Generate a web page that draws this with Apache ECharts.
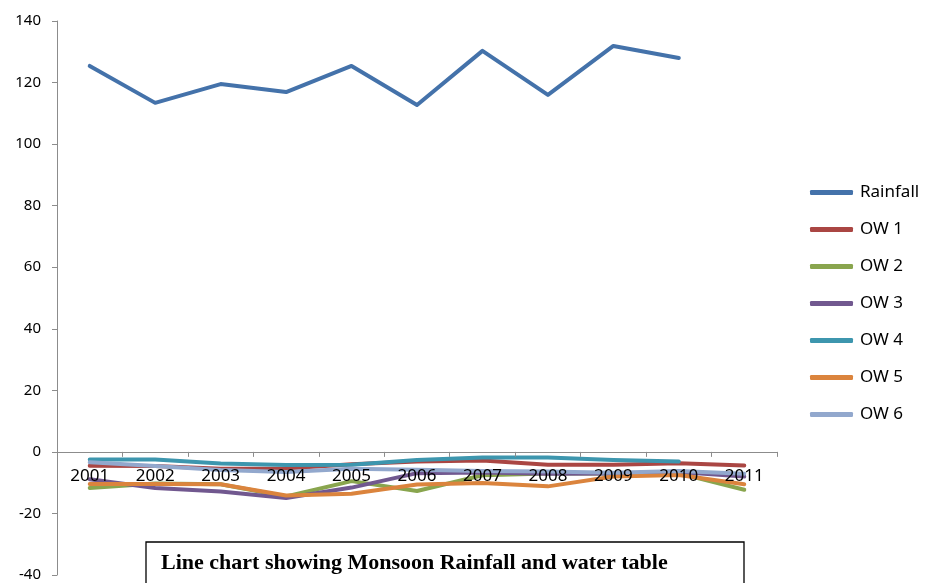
<!DOCTYPE html>
<html>
<head>
<meta charset="utf-8">
<style>
  html, body { margin: 0; padding: 0; background: #ffffff; }
  #chart { width: 935px; height: 583px; }
</style>
<script src="https://cdn.jsdelivr.net/npm/echarts@6/dist/echarts.min.js"></script>
</head>
<body>
<div id="chart"></div>
<script>
// Years of observation
const years = ['2001', '2002', '2003', '2004', '2005', '2006', '2007', '2008', '2009', '2010', '2011'];

// Monsoon rainfall and observation-well water table depths
const rainfall = [125.4, 113.4, 119.5, 116.9, 125.4, 112.7, 130.3, 116.0, 131.9, 128.0, null];
const ow1 = [-4.5, -4.6, -5.5, -5.4, -4.0, -3.1, -2.8, -4.2, -4.2, -3.7, -4.4];
const ow2 = [-11.7, -10.3, -10.5, -14.5, -9.5, -12.7, -7.6, -7.0, -7.0, -7.0, -12.3];
const ow3 = [-8.9, -11.7, -12.9, -15.0, -11.6, -6.9, -6.7, -7.1, -7.0, -6.5, -8.0];
const ow4 = [-2.5, -2.5, -3.8, -4.3, -4.2, -2.6, -1.8, -1.8, -2.6, -3.1, null];
const ow5 = [-10.4, -10.4, -10.5, -14.2, -13.6, -10.6, -10.1, -11.2, -8.0, -7.5, -10.5];
const ow6 = [-3.4, -4.6, -5.9, -6.5, -5.5, -5.8, -6.2, -6.4, -6.8, -6.2, -7.1];

const seriesNames = ['Rainfall', 'OW 1', 'OW 2', 'OW 3', 'OW 4', 'OW 5', 'OW 6'];
const seriesData = [rainfall, ow1, ow2, ow3, ow4, ow5, ow6];
const colors = ['#4472AA', '#AA4643', '#89A54E', '#71588F', '#3D96AE', '#DB843D', '#92A8CD'];

// Y axis range and step
const yMin = -40, yMax = 140, yStep = 20;

const font = '"Noto Sans", "Open Sans", sans-serif';
const axisGrey = '#8C8C8C';

// Plot area placement
const gridTop = 21, gridBottom = 8, chartHeight = 583;
const plotHeight = chartHeight - gridTop - gridBottom;
// The category axis sits on the zero line: lift it from the bottom edge by the
// share of the value range that lies below zero.
const zeroLift = plotHeight * (0 - yMin) / (yMax - yMin);

const chart = echarts.init(document.getElementById('chart'), null, { renderer: 'canvas' });

chart.setOption({
  animation: false,
  color: colors,
  grid: { left: 57, right: 158, top: gridTop, bottom: gridBottom, containLabel: false, outerBoundsMode: 'none' },
  legend: {
    orient: 'vertical',
    left: 810,
    top: 184,
    padding: 0,
    icon: 'roundRect',
    itemWidth: 43,
    itemHeight: 5,
    itemGap: 20,
    textStyle: { fontFamily: font, fontSize: 17, color: '#000', lineHeight: 17, padding: [0, 0, 0, 2] },
    data: seriesNames
  },
  xAxis: {
    type: 'category',
    position: 'bottom',
    offset: -zeroLift,
    data: years,
    boundaryGap: true,
    axisLine: { onZero: false, lineStyle: { color: axisGrey, width: 1 } },
    axisTick: { show: true, inside: false, length: 5, alignWithLabel: false, lineStyle: { color: axisGrey } },
    axisLabel: { color: '#000', fontFamily: font, fontSize: 17, margin: 16, interval: 0 },
    splitLine: { show: false },
    z: 20
  },
  yAxis: {
    type: 'value',
    min: yMin,
    max: yMax,
    interval: yStep,
    axisLine: { show: true, lineStyle: { color: axisGrey, width: 1 } },
    axisTick: { show: true, length: 5, lineStyle: { color: axisGrey } },
    axisLabel: { color: '#000', fontFamily: font, fontSize: 15, margin: 16 },
    splitLine: { show: false }
  },
  series: seriesNames.map((name, i) => ({
    name: name,
    type: 'line',
    data: seriesData[i],
    symbol: 'none',
    smooth: false,
    connectNulls: false,
    lineStyle: { width: 4, color: colors[i], cap: 'round', join: 'round' },
    itemStyle: { color: colors[i] },
    z: 2 + i
  })),
  graphic: [
    {
      type: 'rect',
      shape: { x: 146, y: 542, width: 598, height: 60 },
      style: { fill: '#ffffff', stroke: '#000000', lineWidth: 1.3 },
      z: 100
    },
    {
      type: 'text',
      x: 161,
      y: 563,
      style: {
        text: 'Line chart showing Monsoon Rainfall and water table',
        font: 'bold 22px "Liberation Serif", "Times New Roman", serif',
        fill: '#000000',
        textVerticalAlign: 'middle'
      },
      z: 101
    }
  ]
});
</script>
</body>
</html>
